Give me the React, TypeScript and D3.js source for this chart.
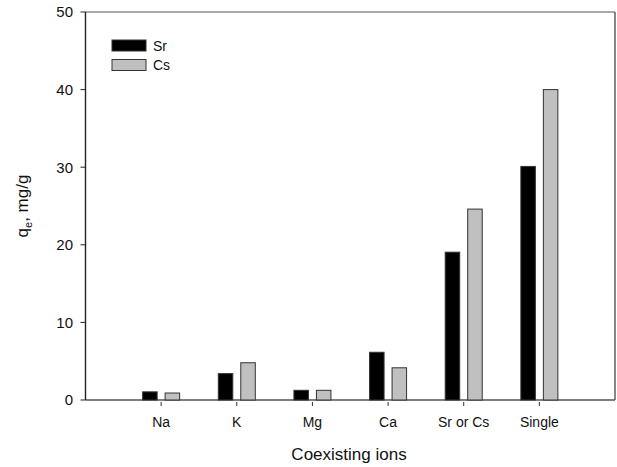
import React from "react";
import * as d3 from "d3";

const categories = ["Na", "K", "Mg", "Ca", "Sr or Cs", "Single"];
const srValues = [1.05, 3.4, 1.25, 6.15, 19.05, 30.1];
const csValues = [0.9, 4.8, 1.25, 4.15, 24.6, 40.0];
const yTicks = [0, 10, 20, 30, 40, 50];
const seriesNames = ["Sr", "Cs"];
const seriesColors = ["#000000", "#c0c0c0"];

const W = 617;
const H = 467;
const left = 85.5;
const right = 615;
const top = 12;
const bottom = 400;
const font = "Arial, 'Liberation Sans', Helvetica, sans-serif";

export default function App() {
  const x = d3.scaleLinear().domain([0, categories.length + 1]).range([left, right]);
  const y = d3.scaleLinear().domain([0, 50]).range([bottom, top]);
  const barW = 14.5;
  const gap = 8;
  const series = [srValues, csValues];

  return (
    <svg
      width={W}
      height={H}
      style={{ position: "absolute", left: 0, top: 0, background: "#fff" }}
      fontFamily={font}
    >
      {/* frame */}
      <line x1={left} x2={right} y1={top} y2={top} stroke="#555" strokeWidth={1.2} />
      <line x1={right} x2={right} y1={top} y2={bottom} stroke="#555" strokeWidth={1.4} />
      <line x1={left} x2={right} y1={bottom} y2={bottom} stroke="#555" strokeWidth={1.4} />
      <line x1={left} x2={left} y1={top} y2={bottom} stroke="#222" strokeWidth={1.4} />

      {/* bars */}
      {categories.map((c, i) =>
        series.map((vals, s) => {
          const cx = x(i + 1);
          const bx = s === 0 ? cx - gap / 2 - barW : cx + gap / 2;
          return (
            <rect
              key={c + s}
              x={bx}
              y={y(vals[i])}
              width={barW}
              height={y(0) - y(vals[i])}
              fill={seriesColors[s]}
              stroke="#333"
              strokeWidth={1}
            />
          );
        })
      )}

      {/* y axis ticks */}
      {yTicks.map((t) => (
        <g key={t}>
          <line x1={left - 5} x2={left} y1={y(t)} y2={y(t)} stroke="#222" strokeWidth={1} />
          <text x={73} y={y(t)} dy="0.36em" textAnchor="end" fontSize={15} fill="#111">
            {t}
          </text>
        </g>
      ))}

      {/* x axis ticks */}
      {categories.map((c, i) => (
        <g key={c}>
          <line x1={x(i + 1)} x2={x(i + 1)} y1={bottom + 2} y2={bottom + 6} stroke="#333" strokeWidth={1} />
          <text x={x(i + 1)} y={427} textAnchor="middle" fontSize={14} fill="#111">
            {c}
          </text>
        </g>
      ))}

      {/* axis titles */}
      <text x={349} y={460} textAnchor="middle" fontSize={17} fill="#111">
        Coexisting ions
      </text>
      <text transform="translate(28,206) rotate(-90)" textAnchor="middle" fontSize={17} fill="#111">
        q<tspan fontSize={11} dy={4}>e</tspan>
        <tspan dy={-4}>, mg/g</tspan>
      </text>

      {/* legend */}
      {seriesNames.map((n, s) => (
        <g key={n}>
          <rect
            x={112}
            y={40 + s * 19.5}
            width={34}
            height={11}
            fill={seriesColors[s]}
            stroke="#333"
            strokeWidth={1}
          />
          <text x={153} y={45.5 + s * 19.5} dy="0.36em" fontSize={14} fill="#111">
            {n}
          </text>
        </g>
      ))}
    </svg>
  );
}
